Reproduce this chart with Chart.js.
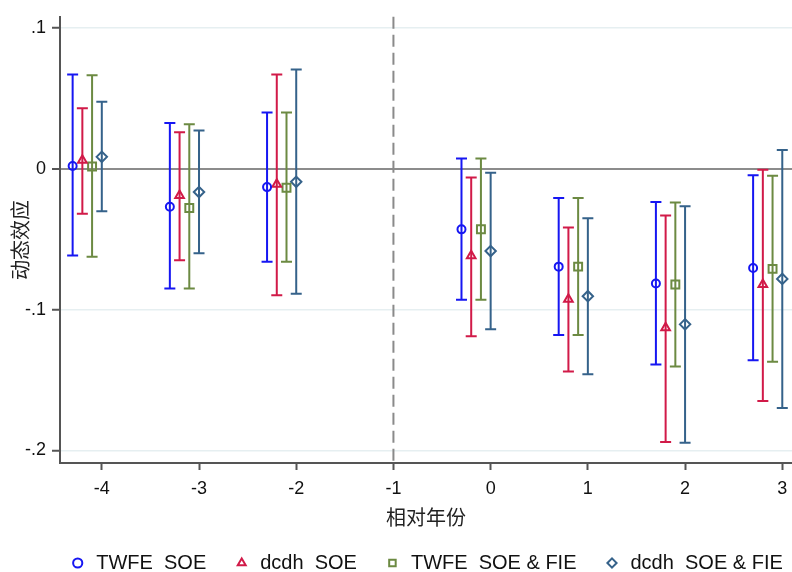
<!DOCTYPE html>
<html>
<head>
    <meta charset="utf-8">
    <title>动态效应</title>
    <script src="https://cdn.jsdelivr.net/npm/chart.js"></script>
    <style>
        body {
            margin: 0;
            background: #fff;
        }
        .wrap {
            width: 792px;
            height: 572px;
        }
    </style>
</head>
<body>
    <div class="wrap"><canvas id="chart" width="792" height="572"></canvas></div>

    <script>
        // relative years (event time)
        const years = [-4, -3, -2, 0, 1, 2, 3];
        const yTicks = [0.1, 0, -0.1, -0.2];
        const yTickLabels = ['.1', '0', '-.1', '-.2'];
        const xTicks = [-4, -3, -2, -1, 0, 1, 2, 3];

        // TWFE, SOE
        const twfeSoe   = [0.002, -0.027, -0.013, -0.043, -0.0695, -0.0815, -0.0704];
        const twfeSoeLo = [-0.0615, -0.085, -0.066, -0.093, -0.118, -0.139, -0.136];
        const twfeSoeHi = [0.067, 0.0325, 0.040, 0.0073, -0.0207, -0.0235, -0.0045];

        // dcdh, SOE
        const dcdhSoe   = [0.006, -0.019, -0.011, -0.0617, -0.0926, -0.113, -0.0822];
        const dcdhSoeLo = [-0.032, -0.065, -0.0898, -0.119, -0.144, -0.194, -0.165];
        const dcdhSoeHi = [0.043, 0.026, 0.067, -0.0061, -0.0417, -0.0332, -0.0007];

        // TWFE, SOE & FIE
        const twfeAll   = [0.0016, -0.0278, -0.0134, -0.0429, -0.0695, -0.0822, -0.0711];
        const twfeAllLo = [-0.0624, -0.085, -0.066, -0.093, -0.118, -0.1404, -0.137];
        const twfeAllHi = [0.0664, 0.0316, 0.040, 0.0073, -0.0207, -0.024, -0.005];

        // dcdh, SOE & FIE
        const dcdhAll   = [0.0085, -0.0165, -0.0092, -0.0584, -0.0905, -0.1105, -0.0782];
        const dcdhAllLo = [-0.0302, -0.060, -0.0888, -0.114, -0.146, -0.1946, -0.170];
        const dcdhAllHi = [0.0476, 0.0273, 0.0705, -0.0028, -0.0351, -0.0266, 0.0134];

        const seriesNames = ['TWFE  SOE', 'dcdh  SOE', 'TWFE  SOE & FIE', 'dcdh  SOE & FIE'];

        const BLUE = '#1616f2';
        const RED = '#d11a48';
        const GREEN = '#6c8a42';
        const NAVY = '#35628a';

        function makeSet(label, vals, lo, hi, shift, color, style, radius) {
            return {
                label: label,
                data: years.map((t, i) => ({ x: t + shift, y: vals[i] })),
                lo: lo,
                hi: hi,
                borderColor: color,
                backgroundColor: 'rgba(0,0,0,0)',
                borderWidth: 2,
                pointStyle: style,
                pointRadius: radius,
                pointHoverRadius: radius,
                pointBorderWidth: 2,
                showLine: false
            };
        }

        // error bars with caps, drawn through the scales
        const errorBars = {
            id: 'errorBars',
            beforeDatasetsDraw(chart) {
                const ctx = chart.ctx;
                const y = chart.scales.y;
                chart.data.datasets.forEach((ds, di) => {
                    const meta = chart.getDatasetMeta(di);
                    ctx.save();
                    ctx.strokeStyle = ds.borderColor;
                    ctx.lineWidth = 2;
                    meta.data.forEach((pt, i) => {
                        const px = pt.x;
                        const top = y.getPixelForValue(ds.hi[i]);
                        const bot = y.getPixelForValue(ds.lo[i]);
                        ctx.beginPath();
                        ctx.moveTo(px, top);
                        ctx.lineTo(px, bot);
                        ctx.moveTo(px - 5.5, top);
                        ctx.lineTo(px + 5.5, top);
                        ctx.moveTo(px - 5.5, bot);
                        ctx.lineTo(px + 5.5, bot);
                        ctx.stroke();
                    });
                    ctx.restore();
                });
            }
        };

        // dashed reference line at t = -1
        const refLine = {
            id: 'refLine',
            beforeDatasetsDraw(chart) {
                const ctx = chart.ctx;
                const area = chart.chartArea;
                const px = chart.scales.x.getPixelForValue(-1);
                ctx.save();
                ctx.strokeStyle = '#8a8a8a';
                ctx.lineWidth = 2;
                ctx.setLineDash([12, 6]);
                ctx.beginPath();
                ctx.moveTo(px, area.top);
                ctx.lineTo(px, area.bottom);
                ctx.stroke();
                ctx.restore();
            }
        };

        // legend sits centred under the plot area, not the canvas
        const legendShift = {
            id: 'legendShift',
            afterLayout(chart) {
                const lg = chart.legend;
                lg.left += 30;
                lg.right += 30;
                lg.top += 2;
                lg.bottom += 2;
            }
        };

        new Chart(document.getElementById('chart'), {
            type: 'scatter',
            data: {
                datasets: [
                    makeSet(seriesNames[0], twfeSoe, twfeSoeLo, twfeSoeHi, -0.3, BLUE, 'circle', 4),
                    makeSet(seriesNames[1], dcdhSoe, dcdhSoeLo, dcdhSoeHi, -0.2, RED, 'triangle', 5),
                    makeSet(seriesNames[2], twfeAll, twfeAllLo, twfeAllHi, -0.1, GREEN, 'rect', 5.6),
                    makeSet(seriesNames[3], dcdhAll, dcdhAllLo, dcdhAllHi, 0, NAVY, 'rectRot', 5.2)
                ]
            },
            options: {
                responsive: false,
                animation: false,
                layout: { autoPadding: false, padding: { left: 0, right: 0, top: 14, bottom: 0 } },
                plugins: {
                    tooltip: { enabled: false },
                    legend: {
                        position: 'bottom',
                        maxHeight: 48,
                        labels: {
                            usePointStyle: true,
                            boxWidth: 17,
                            boxHeight: 6.5,
                            padding: 27,
                            color: '#111',
                            font: { family: 'Liberation Sans', size: 20 }
                        }
                    }
                },
                scales: {
                    x: {
                        type: 'linear',
                        min: -4.43,
                        max: 3.1,
                        afterBuildTicks: (scale) => { scale.ticks = xTicks.map(v => ({ value: v })); },
                        afterFit: (scale) => {
                            scale.height = 61;
                            scale.paddingLeft = 0;
                            scale.paddingRight = 0;
                        },
                        border: { color: '#555', width: 2 },
                        grid: { drawOnChartArea: false, drawTicks: true, tickLength: 7, tickColor: '#555', tickWidth: 2 },
                        ticks: {
                            padding: 8,
                            color: '#111',
                            font: { family: 'Liberation Sans', size: 18 },
                            callback: (v) => String(v)
                        },
                        title: {
                            display: true,
                            text: '相对年份',
                            color: '#222',
                            font: { family: 'Noto Sans CJK SC', size: 20 },
                            padding: { top: 0, bottom: -5 }
                        }
                    },
                    y: {
                        min: -0.209,
                        max: 0.108,
                        afterBuildTicks: (scale) => { scale.ticks = yTicks.map(v => ({ value: v })); },
                        afterFit: (scale) => { scale.width = 60; },
                        border: { color: '#555', width: 2 },
                        grid: {
                            drawTicks: true,
                            tickLength: 8,
                            tickWidth: 2,
                            tickColor: '#555',
                            color: (c) => c.tick && c.tick.value === 0 ? '#8c8c8c' : '#e6eff1',
                            lineWidth: (c) => c.tick && c.tick.value === 0 ? 2 : 1.5
                        },
                        ticks: {
                            padding: 6,
                            color: '#111',
                            font: { family: 'Liberation Sans', size: 18 },
                            callback: (v) => yTickLabels[yTicks.indexOf(v)] ?? ''
                        },
                        title: {
                            display: true,
                            text: '动态效应',
                            color: '#222',
                            font: { family: 'Noto Sans CJK SC', size: 20 },
                            padding: { top: 8, bottom: 0 }
                        }
                    }
                }
            },
            plugins: [refLine, errorBars, legendShift]
        });
    </script>
</body>
</html>
